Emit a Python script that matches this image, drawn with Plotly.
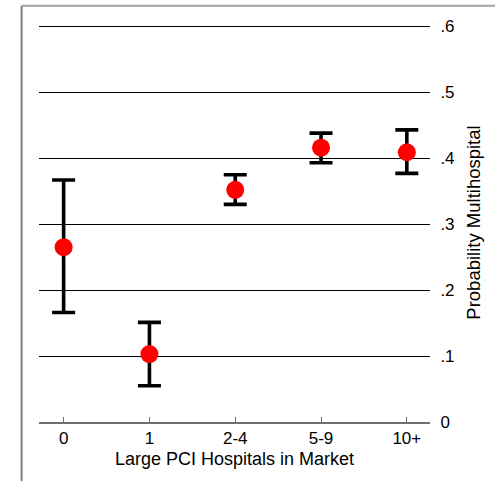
import plotly.graph_objects as go

categories = ["0", "1", "2-4", "5-9", "10+"]
prob = [0.265, 0.103, 0.352, 0.416, 0.409]
ci_upper = [0.367, 0.151, 0.375, 0.438, 0.443]
ci_lower = [0.166, 0.055, 0.330, 0.393, 0.377]

y_ticks = [0, 0.1, 0.2, 0.3, 0.4, 0.5, 0.6]
y_ticklabels = ["0", ".1", ".2", ".3", ".4", ".5", ".6"]

xpos = list(range(len(categories)))
err_plus = [u - p for u, p in zip(ci_upper, prob)]
err_minus = [p - l for p, l in zip(prob, ci_lower)]

W, H = 495, 481
ml, mr, mt, mb = 38.7, 65, 23.0, 59

fig = go.Figure()
fig.add_trace(go.Scatter(
    x=xpos, y=prob, mode="markers",
    marker=dict(color="#ff0000", size=18, line=dict(width=0)),
    error_y=dict(type="data", symmetric=False, array=err_plus, arrayminus=err_minus,
                 color="black", thickness=3.6, width=11.5),
    showlegend=False, hoverinfo="skip",
))

pw = W - ml - mr
ph = H - mt - mb
fx = (21.3 - ml) / pw
fy = 1 + (mt - 5.8) / ph
font = "Liberation Sans, Arial, sans-serif"

fig.update_layout(
    width=W, height=H,
    margin=dict(l=ml, r=mr, t=mt, b=mb, pad=0),
    paper_bgcolor="white", plot_bgcolor="white",
    font=dict(family=font, size=18, color="black"),
    xaxis=dict(
        range=[-0.287, 4.27], tickmode="array", tickvals=xpos, ticktext=categories,
        showgrid=False, zeroline=False, showline=True, linecolor="#6f6f6f", linewidth=1.5,
        ticks="inside", ticklen=5, tickwidth=1, tickcolor="#6f6f6f",
        tickfont=dict(size=17), title=dict(text="Large PCI Hospitals in Market", font=dict(size=18), standoff=5),
        fixedrange=True,
    ),
    yaxis=dict(
        range=[0, 0.605], side="right", tickmode="array", tickvals=y_ticks, ticktext=y_ticklabels,
        showgrid=True, gridcolor="black", gridwidth=1, zeroline=False, showline=False,
        ticks="outside", ticklen=6, tickcolor="rgba(0,0,0,0)",
        tickfont=dict(size=17), title=dict(text="Probability Multihospital", font=dict(size=18.5), standoff=13),
        fixedrange=True,
    ),
    shapes=[
        dict(type="line", xref="paper", yref="paper", x0=fx, x1=fx, y0=-1, y1=fy,
             line=dict(color="#7a7e82", width=2)),
        dict(type="line", xref="paper", yref="paper", x0=fx, x1=2, y0=fy, y1=fy,
             line=dict(color="#9aa2aa", width=2)),
    ],
)

fig.write_html("out.html")
